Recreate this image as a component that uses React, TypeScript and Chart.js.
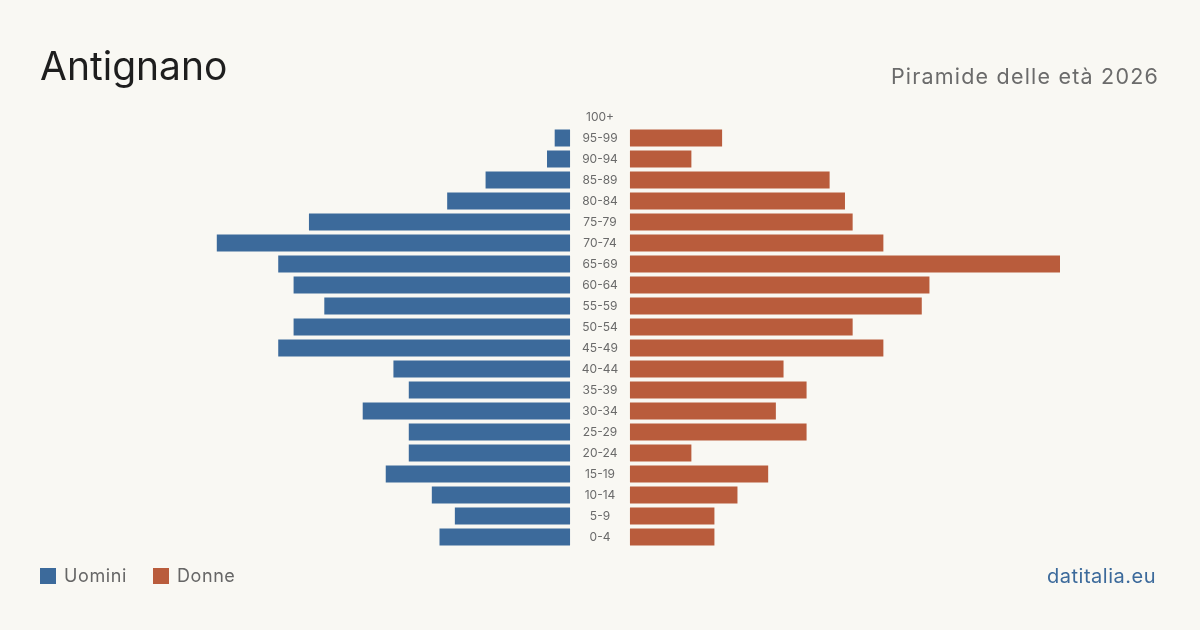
import React, { useEffect, useRef } from "react";
import { Chart, registerables } from "chart.js";

Chart.register(...registerables);

const AGE_GROUPS = [
  "100+", "95-99", "90-94", "85-89", "80-84", "75-79", "70-74", "65-69", "60-64", "55-59",
  "50-54", "45-49", "40-44", "35-39", "30-34", "25-29", "20-24", "15-19", "10-14", "5-9", "0-4",
];
const MEN = [0, 2, 3, 11, 16, 34, 46, 38, 36, 32, 36, 38, 23, 21, 27, 21, 21, 24, 18, 15, 17];
const WOMEN = [0, 12, 8, 26, 28, 29, 33, 56, 39, 38, 29, 33, 20, 23, 19, 23, 8, 18, 14, 11, 11];

const TITLE = "Antignano";
const SUBTITLE = "Piramide delle età 2026";
const LEGEND_MEN = "Uomini";
const LEGEND_WOMEN = "Donne";
const SOURCE = "datitalia.eu";

const BLUE = "#3c6a9b";
const ORANGE = "#b95c3c";
const BG = "#f9f8f3";
const FONT = "Inter, 'Noto Sans', sans-serif";

const GAP = 3.9; // half-width of centre gap in data units
const MAX = Math.max(...MEN, ...WOMEN);

export default function App() {
  const ref = useRef<HTMLCanvasElement | null>(null);

  useEffect(() => {
    if (!ref.current) return;
    const centerLabels = {
      id: "centerLabels",
      afterDatasetsDraw(chart: any) {
        const { ctx, scales } = chart;
        const x = scales.x.getPixelForValue(0);
        ctx.save();
        ctx.font = `12px ${FONT}`;
        ctx.fillStyle = "#6a6a6a";
        ctx.textAlign = "center";
        ctx.textBaseline = "middle";
        AGE_GROUPS.forEach((lab, i) => {
          ctx.fillText(lab, x, scales.y.getPixelForValue(i));
        });
        ctx.restore();
      },
    };
    const chart = new Chart(ref.current, {
      type: "bar",
      data: {
        labels: AGE_GROUPS,
        datasets: [
          {
            label: LEGEND_MEN,
            data: MEN.map((v) => [-(v + GAP), -GAP]) as any,
            backgroundColor: BLUE,
            borderWidth: 0,
            grouped: false,
            barPercentage: 0.81,
            categoryPercentage: 1,
          } as any,
          {
            label: LEGEND_WOMEN,
            data: WOMEN.map((v) => [GAP, v + GAP]) as any,
            backgroundColor: ORANGE,
            borderWidth: 0,
            grouped: false,
            barPercentage: 0.81,
            categoryPercentage: 1,
          } as any,
        ],
      },
      options: {
        indexAxis: "y",
        animation: false,
        responsive: false,
        maintainAspectRatio: false,
        layout: { padding: { left: 140, right: 140, top: 106.5, bottom: 82.5 } },
        scales: {
          x: { display: false, min: -(MAX + GAP), max: MAX + GAP },
          y: { display: false },
        },
        plugins: {
          legend: { display: false },
          tooltip: { enabled: false },
          title: { display: false },
        },
      },
      plugins: [centerLabels],
    });
    return () => chart.destroy();
  }, []);

  const sq = (c: string): React.CSSProperties => ({
    display: "inline-block",
    width: 16,
    height: 16,
    background: c,
    marginRight: 8,
    verticalAlign: "middle",
  });

  return (
    <div
      style={{
        position: "absolute",
        left: 0,
        top: 0,
        width: 1200,
        height: 630,
        background: BG,
        fontFamily: FONT,
        overflow: "hidden",
      }}
    >
      <canvas ref={ref} width={1200} height={630} style={{ position: "absolute", left: 0, top: 0 }} />
      <div style={{ position: "absolute", left: 40, top: 42, fontSize: 39, color: "#1e1e1e", lineHeight: "48px" }}>
        {TITLE}
      </div>
      <div
        style={{
          position: "absolute",
          right: 41,
          top: 62,
          fontSize: 21.5,
          letterSpacing: "1.2px",
          color: "#6b6b6b",
          lineHeight: "28px",
        }}
      >
        {SUBTITLE}
      </div>
      <div
        style={{
          position: "absolute",
          left: 40,
          top: 564,
          fontSize: 18,
          letterSpacing: "0.6px",
          color: "#666",
          lineHeight: "24px",
          display: "flex",
          alignItems: "center",
        }}
      >
        <span style={sq(BLUE)} />
        <span style={{ marginRight: 26 }}>{LEGEND_MEN}</span>
        <span style={sq(ORANGE)} />
        <span>{LEGEND_WOMEN}</span>
      </div>
      <div
        style={{
          position: "absolute",
          right: 44,
          top: 563,
          fontSize: 20,
          letterSpacing: "0.5px",
          color: BLUE,
          lineHeight: "26px",
        }}
      >
        {SOURCE}
      </div>
    </div>
  );
}
